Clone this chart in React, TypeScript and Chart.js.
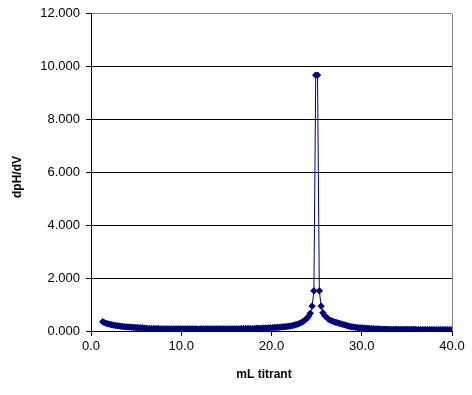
import React, { useEffect, useRef } from "react";
import { Chart, registerables } from "chart.js";

Chart.register(...registerables);

// mL titrant (x) values
const mlTitrant: number[] = [
  1.3, 1.5, 1.7, 1.9, 2.1, 2.3, 2.5, 2.7, 2.9, 3.1,
  3.3, 3.5, 3.7, 3.9, 4.1, 4.3, 4.5, 4.7, 4.9, 5.1,
  5.3, 5.5, 5.7, 5.9, 6.1, 6.3, 6.5, 6.7, 6.9, 7.1,
  7.3, 7.5, 7.7, 7.9, 8.1, 8.3, 8.5, 8.7, 8.9, 9.1,
  9.3, 9.5, 9.7, 9.9, 10.1, 10.3, 10.5, 10.7, 10.9, 11.1,
  11.3, 11.5, 11.7, 11.9, 12.1, 12.3, 12.5, 12.7, 12.9, 13.1,
  13.3, 13.5, 13.7, 13.9, 14.1, 14.3, 14.5, 14.7, 14.9, 15.1,
  15.3, 15.5, 15.7, 15.9, 16.1, 16.3, 16.5, 16.7, 16.9, 17.1,
  17.3, 17.5, 17.7, 17.9, 18.1, 18.3, 18.5, 18.7, 18.9, 19.1,
  19.3, 19.5, 19.7, 19.9, 20.1, 20.3, 20.5, 20.7, 20.9, 21.1,
  21.3, 21.5, 21.7, 21.9, 22.1, 22.3, 22.5, 22.7, 22.9, 23.1,
  23.3, 23.5, 23.7, 23.9, 24.1, 24.3, 24.5, 24.7, 24.9, 25.1,
  25.3, 25.5, 25.7, 25.9, 26.1, 26.3, 26.5, 26.7, 26.9, 27.1,
  27.3, 27.5, 27.7, 27.9, 28.1, 28.3, 28.5, 28.7, 28.9, 29.1,
  29.3, 29.5, 29.7, 29.9, 30.1, 30.3, 30.5, 30.7, 30.9, 31.1,
  31.3, 31.5, 31.7, 31.9, 32.1, 32.3, 32.5, 32.7, 32.9, 33.1,
  33.3, 33.5, 33.7, 33.9, 34.1, 34.3, 34.5, 34.7, 34.9, 35.1,
  35.3, 35.5, 35.7, 35.9, 36.1, 36.3, 36.5, 36.7, 36.9, 37.1,
  37.3, 37.5, 37.7, 37.9, 38.1, 38.3, 38.5, 38.7, 38.9, 39.1,
  39.3, 39.5, 39.7, 39.9,
];

// dpH/dV (y) values
const dpHdV: number[] = [
  0.35, 0.31, 0.29, 0.27, 0.25, 0.24, 0.22, 0.21, 0.2, 0.19,
  0.18, 0.17, 0.16, 0.16, 0.15, 0.15, 0.14, 0.14, 0.13, 0.13,
  0.12, 0.12, 0.12, 0.11, 0.1, 0.09, 0.09, 0.09, 0.09, 0.09,
  0.09, 0.09, 0.08, 0.08, 0.08, 0.08, 0.08, 0.08, 0.08, 0.08,
  0.08, 0.08, 0.08, 0.08, 0.08, 0.08, 0.08, 0.08, 0.08, 0.08,
  0.08, 0.08, 0.08, 0.07, 0.08, 0.08, 0.08, 0.08, 0.08, 0.08,
  0.08, 0.08, 0.08, 0.08, 0.08, 0.08, 0.08, 0.08, 0.08, 0.08,
  0.08, 0.08, 0.08, 0.08, 0.08, 0.08, 0.08, 0.09, 0.09, 0.09,
  0.09, 0.09, 0.09, 0.09, 0.09, 0.1, 0.1, 0.1, 0.1, 0.11,
  0.11, 0.11, 0.12, 0.12, 0.12, 0.13, 0.13, 0.14, 0.14, 0.15,
  0.16, 0.16, 0.17, 0.18, 0.19, 0.2, 0.22, 0.24, 0.26, 0.29,
  0.32, 0.36, 0.41, 0.47, 0.55, 0.67, 0.94, 1.52, 9.68, 9.68,
  1.52, 0.94, 0.69, 0.58, 0.51, 0.45, 0.41, 0.38, 0.35, 0.33,
  0.31, 0.29, 0.27, 0.25, 0.23, 0.21, 0.19, 0.17, 0.16, 0.15,
  0.14, 0.13, 0.12, 0.12, 0.11, 0.11, 0.1, 0.1, 0.09, 0.09,
  0.09, 0.08, 0.08, 0.08, 0.07, 0.07, 0.07, 0.07, 0.06, 0.06,
  0.06, 0.06, 0.06, 0.06, 0.06, 0.06, 0.06, 0.06, 0.06, 0.06,
  0.06, 0.06, 0.06, 0.06, 0.05, 0.05, 0.05, 0.05, 0.05, 0.05,
  0.05, 0.05, 0.05, 0.05, 0.05, 0.05, 0.05, 0.05, 0.05, 0.05,
  0.05, 0.05, 0.05, 0.05,
];

const xTitle = "mL titrant";
const yTitle = "dpH/dV";

const FONT = "'Liberation Sans', Arial, sans-serif";

export default function App() {
  const ref = useRef<HTMLCanvasElement | null>(null);

  useEffect(() => {
    document.body.style.margin = "0";
    const canvas = ref.current;
    if (!canvas) return;

    const titlesPlugin = {
      id: "titlesAndFrame",
      afterDraw(chart: any) {
        const { ctx, chartArea } = chart;
        ctx.save();
        // gray right border of plot area
        ctx.strokeStyle = "#808080";
        ctx.lineWidth = 1;
        ctx.beginPath();
        ctx.moveTo(Math.round(chartArea.right) + 0.5, chartArea.top);
        ctx.lineTo(Math.round(chartArea.right) + 0.5, chartArea.bottom);
        ctx.stroke();
        // titles
        ctx.fillStyle = "#000";
        ctx.font = `bold 12px ${FONT}`;
        ctx.textAlign = "center";
        ctx.textBaseline = "middle";
        ctx.fillText(xTitle, 264, 375);
        ctx.translate(18, 177);
        ctx.rotate(-Math.PI / 2);
        ctx.fillText(yTitle, 0, 0);
        ctx.restore();
      },
    };

    const chart = new Chart(canvas, {
      type: "line",
      data: {
        datasets: [
          {
            data: mlTitrant.map((x, i) => ({ x, y: dpHdV[i] })),
            borderColor: "#000080",
            backgroundColor: "#000080",
            borderWidth: 1,
            pointStyle: "rectRot",
            pointRadius: 3.2,
            pointBorderWidth: 1,
            pointBackgroundColor: "#000080",
            pointBorderColor: "#000080",
            tension: 0,
          },
        ],
      },
      options: {
        animation: false,
        responsive: false,
        maintainAspectRatio: false,
        layout: { padding: { top: 13, right: 20, left: 0, bottom: 0 } },
        plugins: {
          legend: { display: false },
          tooltip: { enabled: false },
        },
        scales: {
          x: {
            type: "linear",
            min: 0,
            max: 40,
            afterFit: (s: any) => {
              s.height = 64;
            },
            ticks: {
              stepSize: 10,
              color: "#000",
              font: { family: FONT, size: 13 },
              padding: 3,
              maxRotation: 0,
              callback: (v: any) => Number(v).toFixed(1),
            },
            grid: {
              drawOnChartArea: false,
              drawTicks: true,
              tickLength: 5,
              tickColor: "#000",
            },
            border: { color: "#000", width: 1 },
          },
          y: {
            type: "linear",
            min: 0,
            max: 12,
            afterFit: (s: any) => {
              s.width = 91;
            },
            ticks: {
              stepSize: 2,
              color: "#000",
              font: { family: FONT, size: 13 },
              padding: 6,
              callback: (v: any) => Number(v).toFixed(3),
            },
            grid: {
              color: (c: any) => (c.tick && c.tick.value === 12 ? "#808080" : "#000"),
              tickColor: "#000",
              tickLength: 5,
              lineWidth: 1,
            },
            border: { color: "#000", width: 1 },
          },
        },
      },
      plugins: [titlesPlugin],
    });

    return () => chart.destroy();
  }, []);

  return (
    <div style={{ position: "fixed", left: 0, top: 0, width: 472, height: 395, background: "#fff" }}>
      <canvas ref={ref} width={472} height={395} style={{ width: 472, height: 395 }} />
    </div>
  );
}
